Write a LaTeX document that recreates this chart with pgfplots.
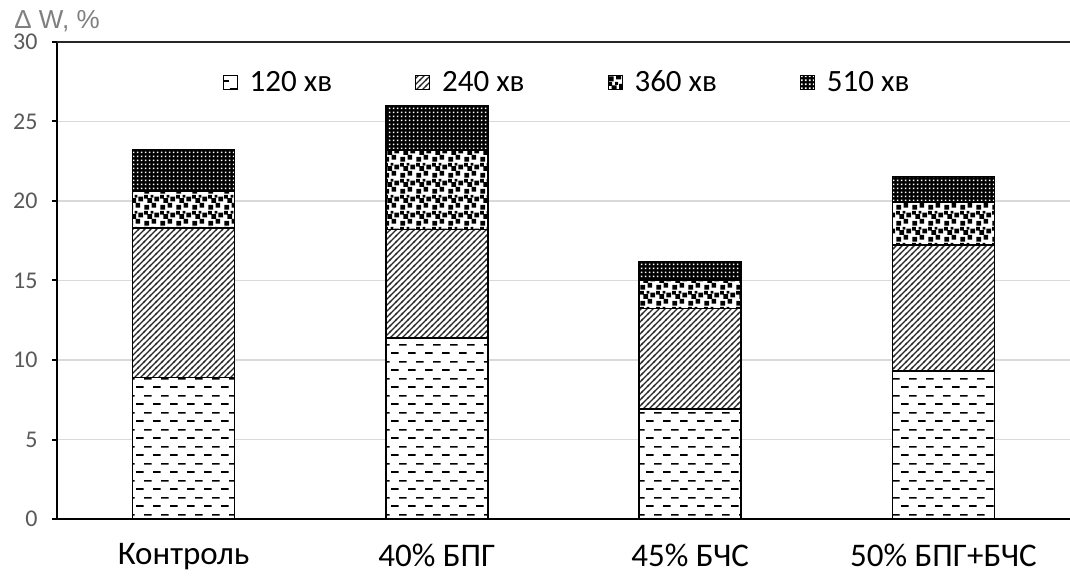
\documentclass[border=0pt]{standalone}
\usepackage{pgfplots}
\pgfplotsset{compat=1.18}
\usepackage{fontspec}
\setmainfont{Carlito}
\newfontfamily\arialf{Liberation Sans}
\usetikzlibrary{patterns}
\definecolor{tickgray}{HTML}{595959}
\definecolor{labgray}{HTML}{7F7F7F}
\definecolor{gridgray}{HTML}{D9D9D9}

\pgfdeclarepatternformonly{hdash}{\pgfpointorigin}{\pgfpoint{17pt}{17pt}}{\pgfpoint{17pt}{17pt}}{%
  \pgfsetlinewidth{1.7pt}%
  \pgfpathmoveto{\pgfpoint{0pt}{4.25pt}}\pgfpathlineto{\pgfpoint{8pt}{4.25pt}}%
  \pgfpathmoveto{\pgfpoint{8.5pt}{12.75pt}}\pgfpathlineto{\pgfpoint{16.5pt}{12.75pt}}%
  \pgfusepath{stroke}}

\pgfdeclarepatternformonly{diagl}{\pgfpoint{-1pt}{-1pt}}{\pgfpoint{7pt}{7pt}}{\pgfpoint{6pt}{6pt}}{%
  \pgfsetlinewidth{1.2pt}%
  \pgfpathmoveto{\pgfpoint{-1pt}{-1pt}}\pgfpathlineto{\pgfpoint{7pt}{7pt}}%
  \pgfusepath{stroke}}

\pgfdeclarepatternformonly{confetti}{\pgfpointorigin}{\pgfpoint{16pt}{16pt}}{\pgfpoint{16pt}{16pt}}{%
  \pgfpathrectangle{\pgfpoint{0.5pt}{0.5pt}}{\pgfpoint{5pt}{5pt}}%
  \pgfpathrectangle{\pgfpoint{8pt}{2.5pt}}{\pgfpoint{5pt}{5pt}}%
  \pgfpathrectangle{\pgfpoint{3.5pt}{7.5pt}}{\pgfpoint{5pt}{5pt}}%
  \pgfpathrectangle{\pgfpoint{11pt}{9pt}}{\pgfpoint{5pt}{5pt}}%
  \pgfpathrectangle{\pgfpoint{0pt}{12pt}}{\pgfpoint{4pt}{4pt}}%
  \pgfpathrectangle{\pgfpoint{7pt}{13pt}}{\pgfpoint{3pt}{3pt}}%
  \pgfusepath{fill}}

\pgfdeclarepatternformonly{wdots}{\pgfpointorigin}{\pgfpoint{4pt}{4pt}}{\pgfpoint{4pt}{4pt}}{%
  \pgfpathrectangle{\pgfpoint{1pt}{1pt}}{\pgfpoint{2pt}{2pt}}%
  \pgfusepath{fill}}

\begin{document}
\begin{tikzpicture}
\path[use as bounding box] (-57pt,-59pt) rectangle (1013pt,519pt);
\begin{axis}[
  at={(0,0)}, anchor=south west,
  scale only axis, width=1013pt, height=477pt,
  xmin=-0.5, xmax=3.5, ymin=0, ymax=30,
  ybar stacked, bar width=102pt,
  axis lines*=left,
  x axis line style={line width=2.6pt},
  y axis line style={line width=2.2pt},
  xtick={0,1,2,3},
  xticklabels={Контроль, 40\% БПГ, 45\% БЧС, 50\% БПГ+БЧС},
  xtick style={draw=none},
  xticklabel style={font=\fontsize{33}{40}\selectfont, text=black, yshift=-16pt},
  ytick={0,5,10,15,20,25},
  extra y ticks={30},
  extra y tick style={major grid style={draw=black!85, line width=1.3pt}},
  ymajorgrids,
  major grid style={draw=gridgray, line width=1.3pt},
  tick align=outside,
  major tick length=5pt,
  y tick style={black, line width=2pt},
  yticklabel style={font=\fontsize{24}{28}\selectfont, text=tickgray, xshift=-11pt},
  /pgf/number format/assume math mode=true,
  ylabel={Δ W, \%},
  every axis y label/.style={at={(rel axis cs:0,1)}, anchor=south, yshift=7pt,
     font=\arialf\fontsize{26}{30}\selectfont, text=labgray},
  legend columns=4,
  legend style={draw=none, fill=none, at={(0.503,0.916)}, anchor=center,
     font=\fontsize{31}{37}\selectfont,
     /tikz/every odd column/.append style={column sep=11pt},
     /tikz/every even column/.append style={column sep=82pt},
     nodes={inner sep=1pt}},
  legend image code/.code={\draw[#1, line width=1pt] (0pt,-7pt) rectangle (14pt,7pt);},
]
\addplot+[draw=black, line width=1.6pt, fill=white, postaction={pattern=hdash, pattern color=black}]
  coordinates {(0,8.9) (1,11.4) (2,6.9) (3,9.3)};
\addplot+[draw=black, line width=1.6pt, fill=white, postaction={pattern=diagl, pattern color=black!85}]
  coordinates {(0,9.4) (1,6.8) (2,6.35) (3,7.95)};
\addplot+[draw=black, line width=1.6pt, fill=white, postaction={pattern=confetti, pattern color=black}]
  coordinates {(0,2.3) (1,5.0) (2,1.8) (3,2.7)};
\addplot+[draw=black, line width=1.6pt, fill=black, postaction={pattern=wdots, pattern color=white}]
  coordinates {(0,2.6) (1,2.8) (2,1.15) (3,1.6)};
\legend{120 хв, 240 хв, 360 хв, 510 хв}
\end{axis}
\end{tikzpicture}
\end{document}
